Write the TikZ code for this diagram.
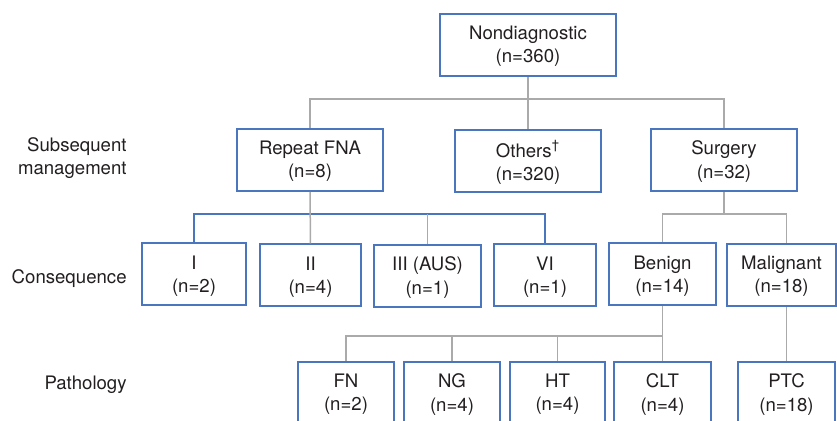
\documentclass[tikz,border=0pt]{standalone}
\usepackage{fontspec}
\setmainfont{TeX Gyre Heros}
\usepackage{tikz}
\usetikzlibrary{positioning}
\definecolor{boxblue}{RGB}{74,118,192}
\definecolor{linegray}{RGB}{170,170,170}
\definecolor{txtdark}{RGB}{35,31,32}
\tikzset{
  box/.style={draw=boxblue, line width=1pt, minimum height=31pt, inner sep=0pt,
    align=center, text depth=0.4pt, text=txtdark, font=\fontsize{9.3}{11.6}\selectfont},
  conn/.style={draw=linegray, line width=0.75pt},
  bconn/.style={draw=boxblue, line width=1pt},
  rowlabel/.style={anchor=east, align=right, inner sep=0pt, text=txtdark,
    font=\fontsize{9.3}{11.6}\selectfont}
}
\begin{document}
\begin{tikzpicture}[x=0.5pt,y=-0.5pt]
\clip (0,0) rectangle (837,421);
% row labels
\node[rowlabel] (lsub) at (127,158) {Subsequent\\management};
\node[rowlabel] (lcon) at (127,279) {Consequence};
\node[rowlabel] (lpat) at (127,385) {Pathology};
% boxes
\node[box, minimum width=88pt] (nd) at (528,45) {Nondiagnostic\\(n=360)};
\node[box, minimum width=73pt] (rfna) at (310,160) {Repeat FNA\\(n=8)};
\node[box, minimum width=73pt] (oth) at (528,161) {Others\textsuperscript{\textdagger}\\(n=320)};
\node[box, minimum width=73pt] (sur) at (724,160) {Surgery\\(n=32)};
\node[box, minimum width=52pt] (c1) at (194,274.5) {I\\(n=2)};
\node[box, minimum width=50.5pt] (c2) at (310.5,275.5) {II\\(n=4)};
\node[box, minimum width=53.5pt] (c3) at (427.5,276) {III (AUS)\\(n=1)};
\node[box, minimum width=51pt] (c6) at (545,275.5) {VI\\(n=1)};
\node[box, minimum width=53.5pt] (ben) at (662.5,274.5) {Benign\\(n=14)};
\node[box, minimum width=54.5pt] (mal) at (781.5,275) {Malignant\\(n=18)};
\node[box, minimum width=48pt] (fn) at (346,393) {FN\\(n=2)};
\node[box, minimum width=48pt] (ng) at (452,393) {NG\\(n=4)};
\node[box, minimum width=47.5pt] (ht) at (557.5,393) {HT\\(n=4)};
\node[box, minimum width=48.5pt] (clt) at (662.5,393) {CLT\\(n=4)};
\node[box, minimum width=48.5pt] (ptc) at (786.5,393) {PTC\\(n=18)};
% connectors
\coordinate (bar1) at (528,99);
\coordinate (bar2) at (310,214);
\coordinate (bar3) at (724,214);
\coordinate (bar4) at (662,336);
\draw[conn] (nd.south) -- (oth.north);
\draw[conn] (rfna.north) |- (bar1) -| (sur.north);
\draw[bconn] (c1.north) |- (bar2) -| (c6.north);
\draw[conn] (rfna.south) -- (c2.north);
\draw[conn] (c3.north) -- (c3.north |- bar2);
\draw[conn] (sur.south) -- (bar3);
\draw[conn] (ben.north) |- (bar3) -| (ptc.north |- mal.north);
\draw[conn] (mal.south -| ptc.north) -- (ptc.north);
\draw[conn] (ben.south) -- (clt.north);
\draw[conn] (fn.north) |- (bar4);
\draw[conn] (ng.north) -- (ng.north |- bar4);
\draw[conn] (ht.north) -- (ht.north |- bar4);
\end{tikzpicture}
\end{document}
